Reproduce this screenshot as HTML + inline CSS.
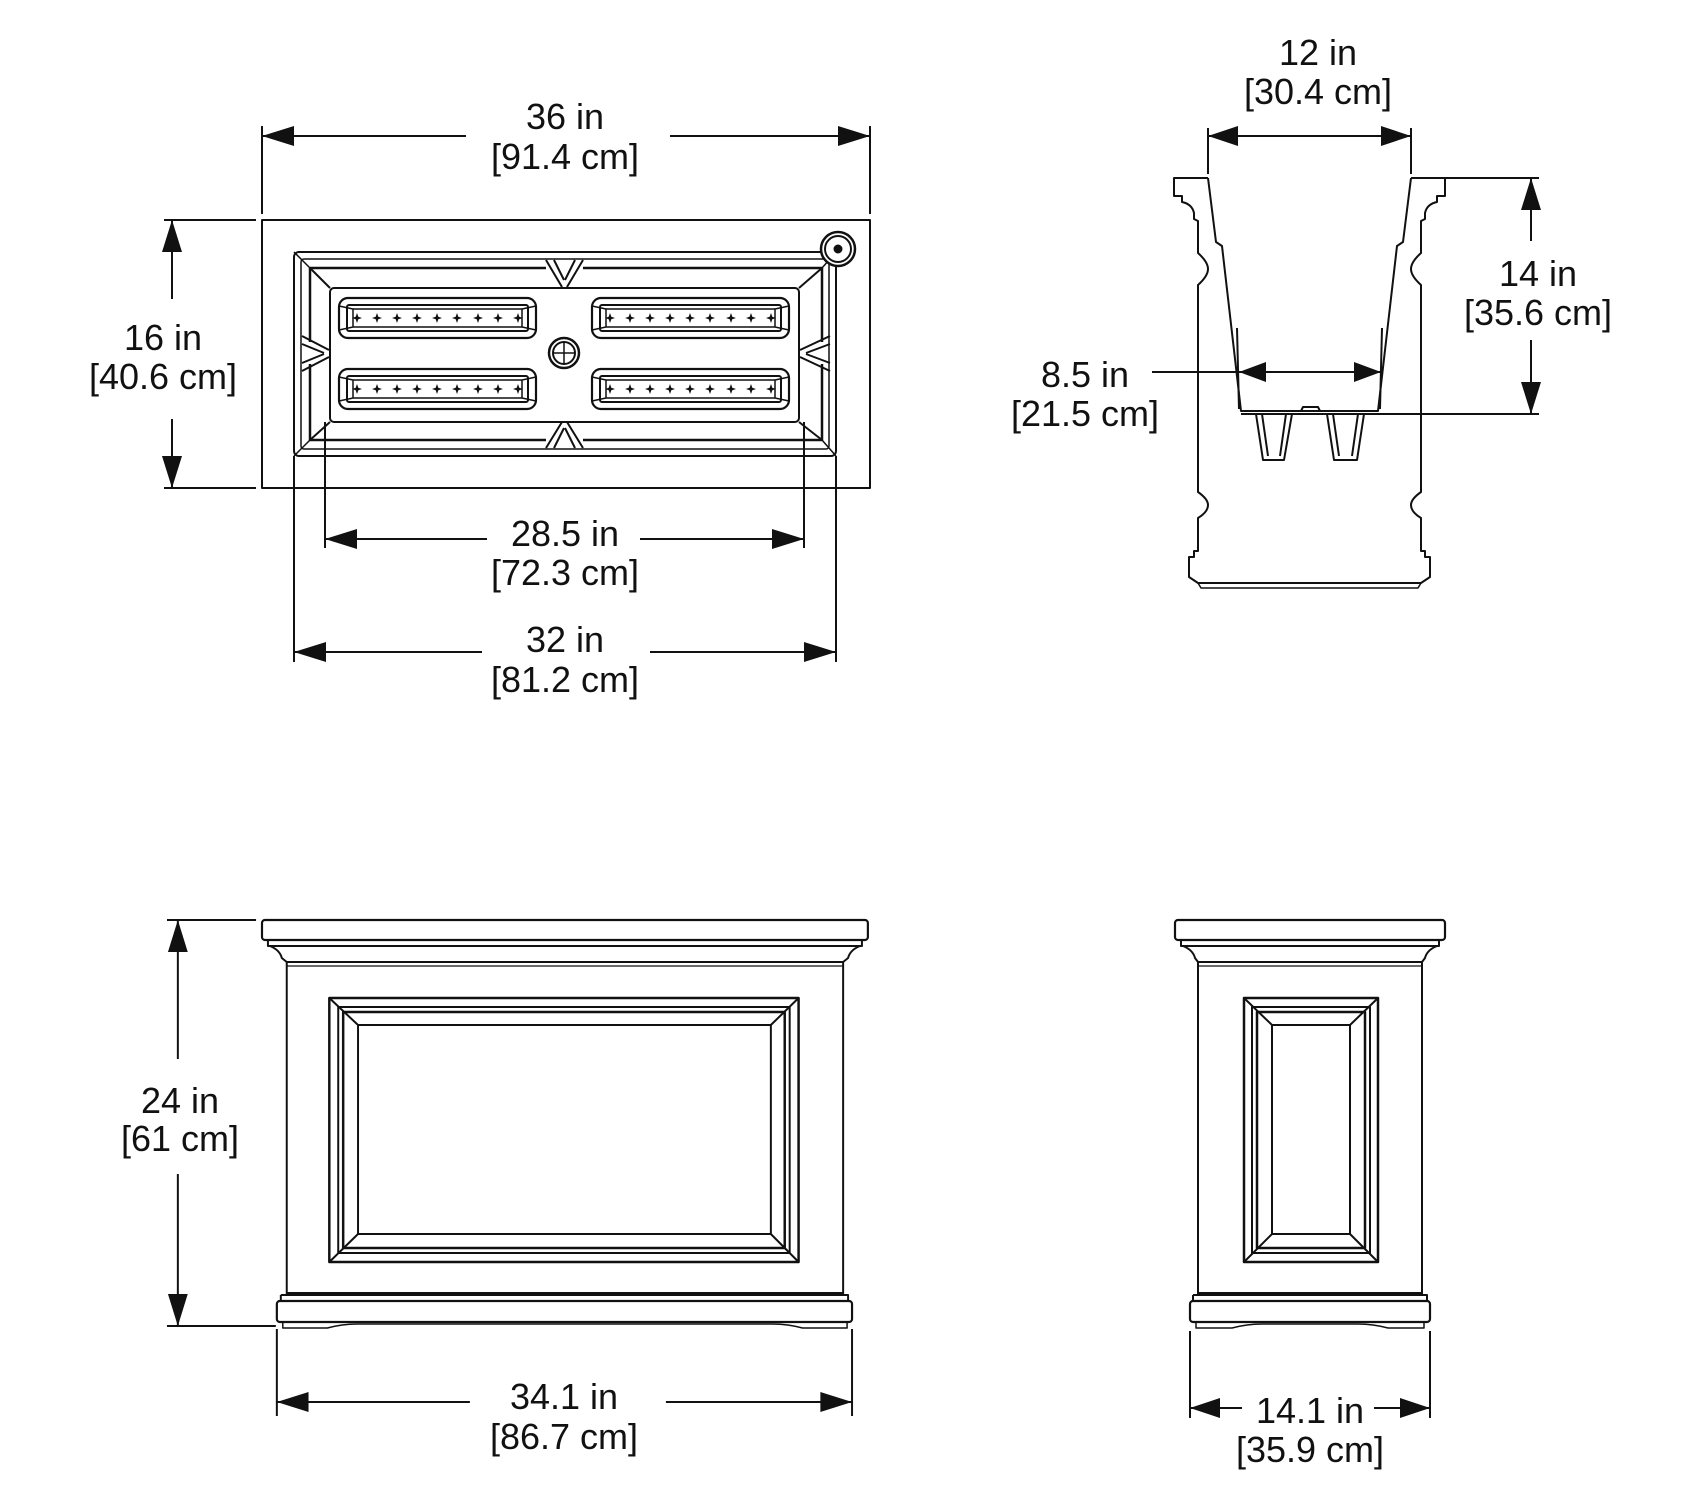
<!DOCTYPE html>
<html><head><meta charset="utf-8"><style>
html,body{margin:0;padding:0;background:#fff;}
svg{display:block;}
text{font-family:"Liberation Sans",sans-serif;font-size:36px;fill:#111;text-anchor:middle;}
</style></head><body>
<svg width="1692" height="1504" viewBox="0 0 1692 1504" xmlns="http://www.w3.org/2000/svg">
<defs>
<path id="st" d="M0 -5 L1.3 -1.3 L5 0 L1.3 1.3 L0 5 L-1.3 1.3 L-5 0 L-1.3 -1.3 Z" fill="#111" stroke="none"/>
</defs>
<g transform="translate(-2,0)">
<g fill="none" stroke="#111" stroke-width="2" stroke-linejoin="round">

<!-- ============ TOP VIEW ============ -->
<line x1="264" y1="126" x2="264" y2="214"/><line x1="872" y1="126" x2="872" y2="214"/>
<line x1="264" y1="136" x2="468" y2="136"/><line x1="672" y1="136" x2="872" y2="136"/>
<line x1="166" y1="220" x2="258" y2="220"/><line x1="166" y1="488" x2="258" y2="488"/>
<line x1="174" y1="220" x2="174" y2="299"/><line x1="174" y1="419" x2="174" y2="488"/>
<rect x="264" y="220" width="608" height="268"/>
<rect x="296" y="252" width="542" height="204" rx="5"/>
<rect x="303" y="259" width="528" height="190" rx="3" stroke-width="1.5"/>
<path d="M312 268 H548 M585 268 H824 V342 M824 364 V440 H585 M548 440 H312 V364 M312 342 V268" stroke-width="2.5"/>
<rect x="332" y="288" width="469" height="134" rx="4"/>
<path d="M312 268 L332 288 M824 268 L801 288 M312 440 L332 422 M824 440 L801 422"/>
<path d="M296 252 L312 268 M838 252 L824 268 M296 456 L312 440 M838 456 L824 440" stroke-width="1.5"/>
<path d="M548 260 L564 287 M556 260 L566 280 M585 260 L569 287 M577 260 L567 280"/>
<path d="M548 448 L564 422 M556 448 L566 428 M585 448 L569 422 M577 448 L567 428"/>
<path d="M304 336 L331 350 M304 344 L326 353 M304 371 L331 357 M304 363 L326 354"/>
<path d="M832 336 L802 350 M832 344 L808 353 M832 371 L802 357 M832 363 L808 354"/>
<g id="pk">
<rect x="341" y="298" width="197" height="40" rx="9" stroke-width="2.2"/>
<rect x="349" y="305" width="181" height="26" rx="2"/>
<line x1="355" y1="309" x2="524" y2="309" stroke-width="1.5"/>
<line x1="355" y1="327" x2="524" y2="327" stroke-width="1.5"/>
<path d="M341 306 L355 309 M538 306 L524 309 M341 330 L355 327 M538 330 L524 327 M355 309 V327 M524 309 V327" stroke-width="1.5"/>
<use href="#st" x="359" y="318"/><use href="#st" x="379" y="318"/><use href="#st" x="399" y="318"/>
<use href="#st" x="419" y="318"/><use href="#st" x="439" y="318"/><use href="#st" x="459" y="318"/>
<use href="#st" x="480" y="318"/><use href="#st" x="500" y="318"/><use href="#st" x="520" y="318"/>
</g>
<use href="#pk" y="71"/><use href="#pk" x="253"/><use href="#pk" x="253" y="71"/>
<circle cx="566" cy="353" r="15" stroke-width="2.5"/><circle cx="566" cy="353" r="11"/>
<path d="M555 353 H577 M566 342 V364" stroke-width="1.5"/>
<path d="M826 258 L832 264 L842 256 L836 250 Z"/>
<circle cx="840" cy="249" r="17" fill="#fff" stroke-width="2.5"/><circle cx="840" cy="249" r="13"/>
<circle cx="840" cy="249" r="3.5" fill="#111"/>
<line x1="327" y1="422" x2="327" y2="548"/><line x1="806" y1="422" x2="806" y2="548"/>
<line x1="327" y1="539" x2="489" y2="539"/><line x1="642" y1="539" x2="806" y2="539"/>
<line x1="296" y1="456" x2="296" y2="662"/><line x1="838" y1="456" x2="838" y2="662"/>
<line x1="296" y1="652" x2="484" y2="652"/><line x1="652" y1="652" x2="838" y2="652"/>

<!-- ============ SIDE SECTION ============ -->
<line x1="1210" y1="128" x2="1210" y2="174"/><line x1="1413" y1="128" x2="1413" y2="174"/>
<line x1="1210" y1="136" x2="1413" y2="136"/>
<path d="M1210 178 H1176 V196 H1184 V202 Q1194 204 1196 213 V219 L1200 221 V253 Q1210 262 1210 269 Q1210 276 1200 285 V492 Q1210 499 1210 505 Q1210 512 1200 518 V551 H1196 V557 H1191 V577 L1200 583 H1423 L1432 577 V557 H1427 V551 H1423 V518 Q1413 512 1413 505 Q1413 499 1423 492 V285 Q1413 276 1413 269 Q1413 262 1423 253 V221 L1427 219 V213 Q1429 204 1439 202 V196 H1447 V178 H1413"/>
<path d="M1200 583 L1203 588 H1420 L1423 583" stroke-width="1.5"/>
<path d="M1210 178 L1218 242 L1224 246 L1243 411 H1380 L1399 246 L1405 242 L1413 178"/>
<line x1="1239" y1="328" x2="1241" y2="409"/><line x1="1384" y1="328" x2="1382" y2="409"/>
<line x1="1243" y1="414" x2="1541" y2="414"/>
<path d="M1303 411 L1305 407 H1320 L1322 411"/>
<path d="M1258 414 L1265 460 H1286 L1294 414 M1264 414 L1270 456 M1288 414 L1282 456"/>
<path d="M1329 414 L1336 460 H1359 L1366 414 M1335 414 L1341 456 M1360 414 L1354 456"/>
<line x1="1154" y1="372" x2="1384" y2="372"/>
<line x1="1415" y1="178" x2="1541" y2="178"/>
<line x1="1533" y1="178" x2="1533" y2="241"/><line x1="1533" y1="340" x2="1533" y2="414"/>
</g>
<g fill="#111">
<polygon points="264,136 296,126 296,146"/><polygon points="872,136 840,126 840,146"/>
<polygon points="174,220 164,252 184,252"/><polygon points="174,488 164,456 184,456"/>
<polygon points="327,539 359,529 359,549"/><polygon points="806,539 774,529 774,549"/>
<polygon points="296,652 328,642 328,662"/><polygon points="838,652 806,642 806,662"/>
<polygon points="1210,136 1240,126 1240,146"/><polygon points="1413,136 1383,126 1383,146"/>
<polygon points="1241,372 1268,362 1268,382"/><polygon points="1383,372 1356,362 1356,382"/>
<polygon points="1533,178 1523,210 1543,210"/><polygon points="1533,414 1523,382 1543,382"/>
</g>
<text x="567" y="129">36 in</text><text x="567" y="169">[91.4 cm]</text>
<text x="165" y="350">16 in</text><text x="165" y="389">[40.6 cm]</text>
<text x="567" y="546">28.5 in</text><text x="567" y="585">[72.3 cm]</text>
<text x="567" y="652">32 in</text><text x="567" y="692">[81.2 cm]</text>
<text x="1320" y="65">12 in</text><text x="1320" y="104">[30.4 cm]</text>
<text x="1087" y="387">8.5 in</text><text x="1087" y="426">[21.5 cm]</text>
<text x="1540" y="286">14 in</text><text x="1540" y="325">[35.6 cm]</text>
</g>

<!-- ============ FRONT VIEW ============ -->
<g transform="translate(0,-4)">
<g transform="translate(262,0) scale(0.99,1) translate(-264,0)">
<g fill="none" stroke="#111" stroke-width="2" stroke-linejoin="round">
<line x1="168" y1="924" x2="258" y2="924"/><line x1="168" y1="1330" x2="278" y2="1330"/>
<line x1="179" y1="924" x2="179" y2="1063"/><line x1="179" y1="1178" x2="179" y2="1330"/>
<rect x="264" y="924" width="612" height="20" rx="3" stroke-width="2.2"/>
<path d="M270 944 V950 H870 V944 M272 950 Q282 954 284 962 L289 966 H851 L856 962 Q858 954 868 950"/>
<line x1="289" y1="970" x2="851" y2="970" stroke-width="1.2"/>
<path d="M289 966 V1299 M851 966 V1299"/>
<path d="M289 1297 H851 M283 1299 H856 V1305 M283 1299 V1305"/>
<rect x="279" y="1305" width="581" height="21" rx="3" stroke-width="2.2"/>
<path d="M285 1326 V1332 H330 Q345 1328 360 1328 H780 Q795 1328 810 1332 H855 V1326" stroke-width="1.5"/>
<rect x="332" y="1002" width="474" height="264" stroke-width="2.5"/>
<rect x="341" y="1011" width="456" height="246"/>
<rect x="346" y="1016" width="446" height="236" stroke-width="2.5"/>
<rect x="361" y="1029" width="417" height="209"/>
<path d="M332 1002 L361 1029 M806 1002 L778 1029 M332 1266 L361 1238 M806 1266 L778 1238"/>
<line x1="279" y1="1333" x2="279" y2="1420"/><line x1="860" y1="1333" x2="860" y2="1420"/>
<line x1="279" y1="1406" x2="474" y2="1406"/><line x1="672" y1="1406" x2="860" y2="1406"/>
</g>
<g fill="#111">
<polygon points="179,924 169,956 189,956"/><polygon points="179,1330 169,1298 189,1298"/>
<polygon points="279,1406 311,1396 311,1416"/><polygon points="860,1406 828,1396 828,1416"/>
</g>
</g>
<text x="180" y="1117">24 in</text><text x="180" y="1155">[61 cm]</text>
<text x="564" y="1413">34.1 in</text><text x="564" y="1453">[86.7 cm]</text>
</g>

<!-- ============ SIDE VIEW ============ -->
<g transform="translate(-8,-4)">
<g fill="none" stroke="#111" stroke-width="2" stroke-linejoin="round">
<rect x="1183" y="924" width="270" height="20" rx="3" stroke-width="2.2"/>
<path d="M1189 944 V950 H1447 V944 M1191 950 Q1201 954 1203 962 L1206 966 H1430 L1433 962 Q1435 954 1445 950"/>
<line x1="1206" y1="970" x2="1430" y2="970" stroke-width="1.2"/>
<path d="M1206 966 V1299 M1430 966 V1299"/>
<path d="M1206 1297 H1430 M1201 1299 H1435 V1305 M1201 1299 V1305"/>
<rect x="1198" y="1305" width="240" height="21" rx="3" stroke-width="2.2"/>
<path d="M1204 1326 V1332 H1240 Q1255 1328 1270 1328 H1366 Q1381 1328 1396 1332 H1432 V1326" stroke-width="1.5"/>
<rect x="1252" y="1002" width="134" height="264" stroke-width="2.5"/>
<rect x="1260" y="1011" width="118" height="246"/>
<rect x="1265" y="1016" width="108" height="236" stroke-width="2.5"/>
<rect x="1280" y="1029" width="78" height="209"/>
<path d="M1252 1002 L1280 1029 M1386 1002 L1358 1029 M1252 1266 L1280 1238 M1386 1266 L1358 1238"/>
<line x1="1198" y1="1335" x2="1198" y2="1422"/><line x1="1438" y1="1335" x2="1438" y2="1422"/>
<line x1="1198" y1="1412" x2="1250" y2="1412"/><line x1="1382" y1="1412" x2="1438" y2="1412"/>
</g>
<g fill="#111">
<polygon points="1198,1412 1228,1402 1228,1422"/><polygon points="1438,1412 1408,1402 1408,1422"/>
</g>
<text x="1318" y="1427">14.1 in</text><text x="1318" y="1466">[35.9 cm]</text>
</g>
</svg>
</body></html>
